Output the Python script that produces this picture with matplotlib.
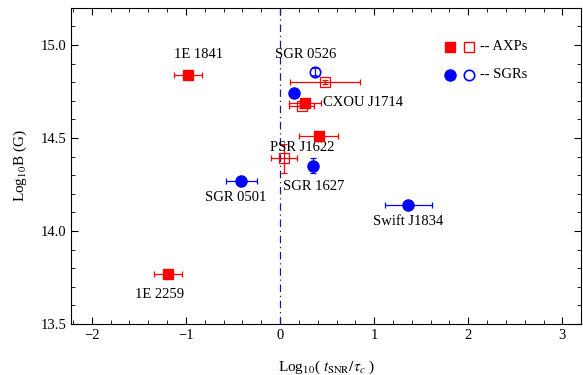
import matplotlib
matplotlib.use("Agg")
import matplotlib.pyplot as plt
from matplotlib.ticker import MultipleLocator

plt.rcParams['font.family'] = ['Liberation Serif', 'DejaVu Serif']
plt.rcParams['mathtext.fontset'] = 'stix'

# AXPs filled
axp_f_x = [-0.98, -1.19, 0.27, 0.41]
axp_f_y = [14.84, 13.77, 14.69, 14.51]
axp_f_xerr = [0.15, 0.15, 0.17, 0.21]
# AXPs open
axp_o_x = [0.48, 0.23, 0.04]
axp_o_y = [14.80, 14.67, 14.39]
axp_o_xerr = [0.37, 0.13, 0.14]
axp_o_yerr = [0.01, 0.01, 0.08]
# SGRs filled
sgr_f_x = [0.15, 0.35, -0.41, 1.36]
sgr_f_y = [14.74, 14.35, 14.27, 14.14]
sgr_f_xerr = [0.0, 0.0, 0.16, 0.25]
sgr_f_yerr = [0.0, 0.04, 0.0, 0.0]
# SGRs open
sgr_o_x = [0.37]
sgr_o_y = [14.855]
sgr_o_yerr = [0.02]

labels = ["1E 1841", "SGR 0526", "CXOU J1714", "PSR J1622", "SGR 1627",
          "SGR 0501", "Swift J1834", "1E 2259"]
label_x = [-0.87, 0.27, 0.46, 0.24, 0.36, -0.47, 1.36, -1.28]
label_y = [14.95, 14.95, 14.69, 14.45, 14.24, 14.18, 14.05, 13.66]
label_ha = ['center', 'center', 'left', 'center', 'center', 'center', 'center', 'center']

fig = plt.figure(figsize=(5.83, 3.75), dpi=100)
ax = fig.add_axes([0.122, 0.136, 0.875, 0.843])

red = '#ff0000'
blue = '#0000ff'
ax.axvline(0, color='#1a1a8c', lw=0.9, ls=(0, (6, 3, 1, 3)))

ax.errorbar(axp_f_x, axp_f_y, xerr=axp_f_xerr, fmt='s', color=red, ms=7.3,
            elinewidth=0.9, capsize=2.5, capthick=0.9, zorder=3)
ax.errorbar(axp_o_x, axp_o_y, xerr=axp_o_xerr, yerr=axp_o_yerr, fmt='s', color=red,
            mfc='none', ms=7, mew=0.9, elinewidth=0.9, capsize=2.5, capthick=0.9, zorder=3)
ax.errorbar(sgr_f_x, sgr_f_y, xerr=sgr_f_xerr, yerr=sgr_f_yerr, fmt='o', color=blue, ms=8,
            elinewidth=0.9, capsize=2.5, capthick=0.9, zorder=3)
ax.errorbar(sgr_o_x, sgr_o_y, yerr=sgr_o_yerr, fmt='o', color=blue, mfc='none', ms=7.5,
            mew=1.2, elinewidth=0.9, capsize=2, capthick=0.9, zorder=3)

for t, x, y, ha in zip(labels, label_x, label_y, label_ha):
    ax.text(x, y, t, ha=ha, va='center', fontsize=10.5)

# legend
ax.plot([1.81], [14.99], 's', color=red, ms=7.3)
ax.plot([2.01], [14.99], 's', color=red, mfc='none', ms=7, mew=1)
ax.text(2.12, 14.99, "-- AXPs", va='center', fontsize=10.5)
ax.plot([1.81], [14.84], 'o', color=blue, ms=8)
ax.plot([2.01], [14.84], 'o', color=blue, mfc='none', ms=7.5, mew=1.2)
ax.text(2.12, 14.84, "-- SGRs", va='center', fontsize=10.5)

ax.set_xlim(-2.22, 3.2)
ax.set_ylim(13.5, 15.2)
ax.xaxis.set_major_locator(MultipleLocator(1))
ax.xaxis.set_minor_locator(MultipleLocator(0.2))
ax.yaxis.set_major_locator(MultipleLocator(0.5))
ax.yaxis.set_minor_locator(MultipleLocator(0.1))
ax.yaxis.set_major_formatter(matplotlib.ticker.FormatStrFormatter('%.1f'))
ax.xaxis.set_major_formatter(matplotlib.ticker.FuncFormatter(lambda v, p: f"{int(round(v))}".replace('-', '\u2212')))
ax.tick_params(which='both', direction='in', top=True, right=True, labelsize=10.5)
ax.tick_params(which='major', length=5)
ax.tick_params(which='minor', length=3)
ax.set_xlabel(r"Log$_{10}$( $t_{\rm SNR}/\tau_c$ )", fontsize=11, labelpad=12)
ax.set_ylabel(r"Log$_{10}$B (G)", fontsize=11, labelpad=8)

fig.savefig("out.png", dpi=100)
